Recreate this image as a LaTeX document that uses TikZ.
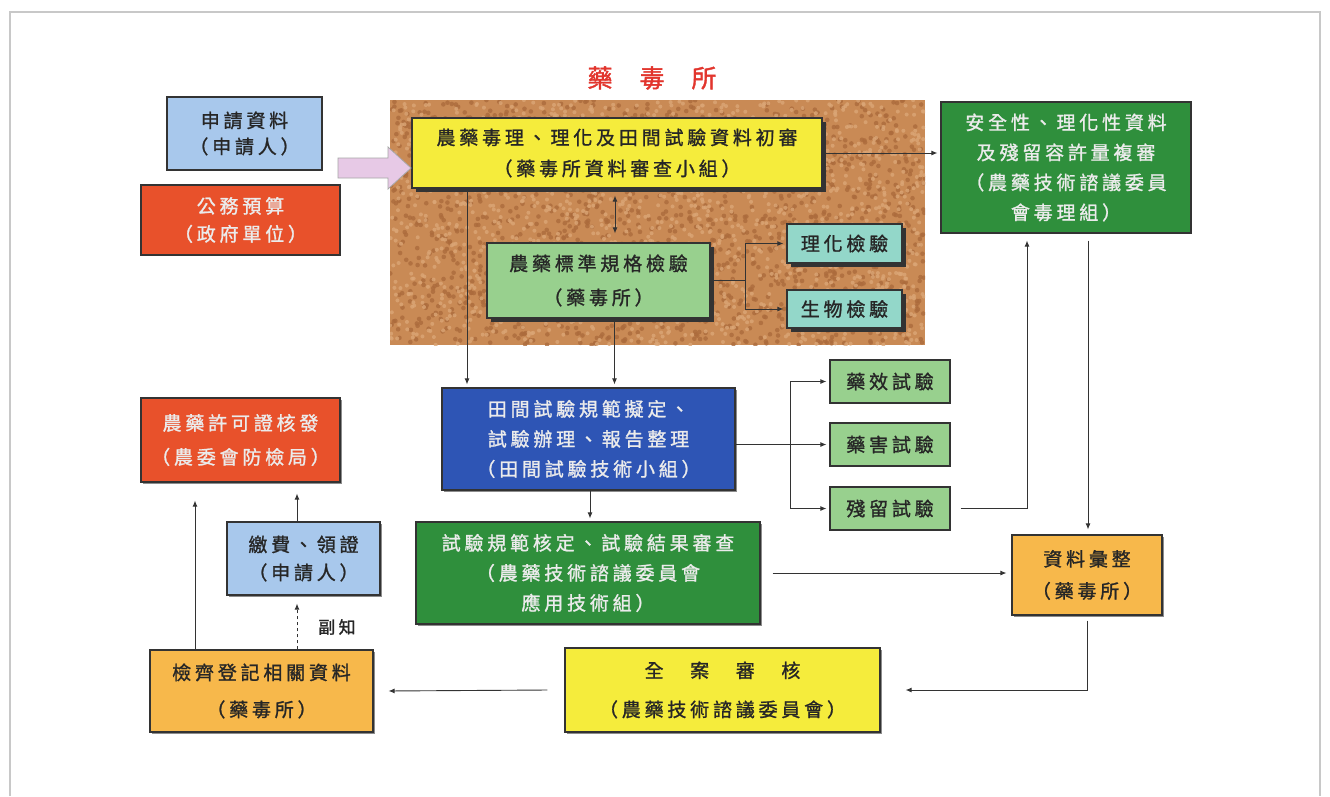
\documentclass[tikz,border=0pt]{standalone}
\usepackage{fontspec}
\usetikzlibrary{arrows.meta,shadows,calc}
\newfontfamily\cjk[LetterSpace=20,FakeBold=1.2]{Noto Sans CJK TC}
\newfontfamily\cjktitle[FakeBold=1.5]{Noto Sans CJK TC}
\definecolor{framec}{HTML}{C8C8C8}
\definecolor{lblue}{HTML}{A8C8EC}
\definecolor{ored}{HTML}{E8512B}
\definecolor{yel}{HTML}{F5EC3C}
\definecolor{dgreen}{HTML}{2F8F3C}
\definecolor{lgreen}{HTML}{98D08E}
\definecolor{teal}{HTML}{93D7C9}
\definecolor{bluebox}{HTML}{2E55B5}
\definecolor{orng}{HTML}{F7B84B}
\definecolor{pinkarrow}{HTML}{E7C9E6}
\definecolor{titlered}{HTML}{E2352D}
\definecolor{corkbase}{HTML}{C98A55}
\definecolor{corkL}{HTML}{DBA676}
\definecolor{corkD}{HTML}{AC6B3C}
\tikzset{
  box/.style={draw=black!80, line width=1.2pt, align=center, inner sep=0pt,
    font=\cjk\fontsize{19}{30}\selectfont},
  darkbox/.style={box, text=white!92!black},
  litebox/.style={box, text=black!85},
  sh/.style={drop shadow={shadow xshift=4pt, shadow yshift=-4pt, fill=black!80, opacity=1}},
  lightsh/.style={drop shadow={shadow xshift=2pt, shadow yshift=-2pt, fill=black!45, opacity=1}},
  conn/.style={draw=black!80, line width=0.9pt, -{Latex[length=6pt,width=5pt]}, shorten >=3pt},
  conn2/.style={draw=black!80, line width=0.9pt, {Latex[length=6pt,width=5pt]}-{Latex[length=6pt,width=5pt]}},
}
\begin{document}
\begin{tikzpicture}[x=1pt,y=-1pt]
\useasboundingbox (0,0) rectangle (1330,796);
\fill[white] (0,0) rectangle (1330,796);
% frame
\draw[framec, line width=1.5pt] (10,796) -- (10,12) -- (1320,12) -- (1320,796);

% cork background
\fill[corkbase] (390,100) rectangle (925,345);
\begin{scope}
\clip (390,100) rectangle (925,345);
\pgfmathsetseed{4711}
\foreach \i in {1,...,1600}{
  \pgfmathsetmacro\px{390+535*rnd}
  \pgfmathsetmacro\py{100+245*rnd}
  \fill[corkD, opacity=0.8] (\px,\py) circle[radius=2.3];
}
\foreach \i in {1,...,1600}{
  \pgfmathsetmacro\px{390+535*rnd}
  \pgfmathsetmacro\py{100+245*rnd}
  \fill[corkL, opacity=0.8] (\px,\py) circle[radius=2.0];
}
\end{scope}

% title
\node[text=titlered, font=\cjktitle\fontsize{25}{25}\selectfont] (title) at (652,78) {藥\hspace{27pt}毒\hspace{27pt}所};

% nodes
\node[litebox, fill=lblue, minimum width=155, minimum height=73, font=\cjk\fontsize{19}{26}\selectfont] (req) at (244.5,133.5) {申請資料\\（申請人）};
\node[darkbox, fill=ored, minimum width=199, minimum height=70, font=\cjk\fontsize{19}{28}\selectfont] (bud) at (240.5,220) {公務預算\\（政府單位）};
\node[litebox, fill=yel, sh, minimum width=410, minimum height=70, font=\cjk\fontsize{19}{31}\selectfont] (init) at (617,153) {農藥毒理、理化及田間試驗資料初審\\（藥毒所資料審查小組）};
\node[darkbox, fill=dgreen, minimum width=250, minimum height=131] (safe) at (1066,167.5) {安全性、理化性資料\\及殘留容許量複審\\（農藥技術諮議委員\\會毒理組）};
\node[litebox, fill=lgreen, sh, minimum width=223, minimum height=75, font=\cjk\fontsize{19}{34}\selectfont] (std) at (598.5,280.5) {農藥標準規格檢驗\\（藥毒所）};
\node[litebox, fill=teal, sh, minimum width=115, minimum height=39] (phy) at (844.5,243.5) {理化檢驗};
\node[litebox, fill=teal, sh, minimum width=115, minimum height=38] (bio) at (844.5,309) {生物檢驗};
\node[darkbox, fill=bluebox, lightsh, minimum width=293, minimum height=102] (field) at (588.5,439) {田間試驗規範擬定、\\試驗辦理、報告整理\\（田間試驗技術小組）};
\node[litebox, fill=lgreen, minimum width=120, minimum height=43] (eff) at (890,381.5) {藥效試驗};
\node[litebox, fill=lgreen, minimum width=120, minimum height=43] (harm) at (890,444.5) {藥害試驗};
\node[litebox, fill=lgreen, minimum width=120, minimum height=43] (res) at (890,508.5) {殘留試驗};
\node[darkbox, fill=dgreen, lightsh, minimum width=344, minimum height=102] (app) at (588,573) {試驗規範核定、試驗結果審查\\（農藥技術諮議委員會\\應用技術組）};
\node[litebox, fill=orng, lightsh, minimum width=150, minimum height=80, font=\cjk\fontsize{19}{32}\selectfont] (coll) at (1087,575) {資料彙整\\（藥毒所）};
\node[litebox, fill=yel, lightsh, minimum width=315, minimum height=84, font=\cjk\fontsize{19}{39}\selectfont] (all) at (722.5,690) {全　案　審　核\\（農藥技術諮議委員會）};
\node[litebox, fill=orng, lightsh, minimum width=223, minimum height=82, font=\cjk\fontsize{19}{37}\selectfont] (prep) at (261.5,691) {檢齊登記相關資料\\（藥毒所）};
\node[litebox, fill=lblue, lightsh, minimum width=153, minimum height=73, font=\cjk\fontsize{19}{28}\selectfont] (pay) at (303.5,558.5) {繳費、領證\\（申請人）};
\node[darkbox, fill=ored, lightsh, minimum width=199, minimum height=84, font=\cjk\fontsize{19}{34}\selectfont] (lic) at (240.5,440) {農藥許可證核發\\（農委會防檢局）};
\node[text=black!85, font=\cjk\fontsize{17}{17}\selectfont] (note) at (337,627) {副知};

% pink block arrow
\path[draw=black!35, fill=pinkarrow, line width=0.8pt]
  (338,158) -- (388,158) -- (388,147) -- (411,168) -- (388,189) -- (388,178) -- (338,178) -- cycle;

% connectors
\draw[conn] (init.east) -- (init.east -| safe.west);
\draw[conn2, shorten <=7pt, shorten >=9pt] ([xshift=-2pt]init.south) -- ([xshift=-2pt]init.south |- std.north);
\draw[conn] (std.east) -- ++(35,0) |- (phy.west);
\draw[conn] (std.east) -- ++(35,0) |- (bio.west);
\draw[conn] ([xshift=-150pt]init.south) -- ([xshift=-150pt]init.south |- field.north);
\draw[conn] ([xshift=16pt]std.south) -- ([xshift=16pt]std.south |- field.north);
\draw[conn] (field.east |- harm.west) -- (harm.west);
\draw[conn] (field.east |- harm.west) -- ++(55,0) |- (eff.west);
\draw[conn] (field.east |- harm.west) -- ++(55,0) |- (res.west);
\draw[conn, shorten >=7pt] ([xshift=10pt]res.east) -| ([xshift=-39pt]safe.south);
\draw[conn, shorten <=7pt, shorten >=5pt] ([xshift=22pt]safe.south) -- ([xshift=22pt]safe.south |- coll.north);
\draw[conn] ([xshift=1.5pt]field.south) -- ([xshift=1.5pt]field.south |- app.north);
\draw[conn, shorten >=5pt] ([xshift=12pt]app.east) -- (app.east -| coll.west);
\draw[conn, shorten <=5pt] (coll.south) |- ([xshift=22pt]all.east);
\draw[conn] ([xshift=-17pt]all.west) -- ([xshift=12pt]prep.east);
\draw[conn, shorten >=18pt] ([xshift=-66.5pt]prep.north) -- ([xshift=-66.5pt]prep.north |- lic.south);
\draw[conn, dashed, shorten >=8pt] ([xshift=35.5pt]prep.north) -- ([xshift=35.5pt]prep.north |- pay.south);
\draw[conn, shorten >=11pt] ([xshift=-6.5pt]pay.north) -- ([xshift=-6.5pt]pay.north |- lic.south);
\end{tikzpicture}
\end{document}
